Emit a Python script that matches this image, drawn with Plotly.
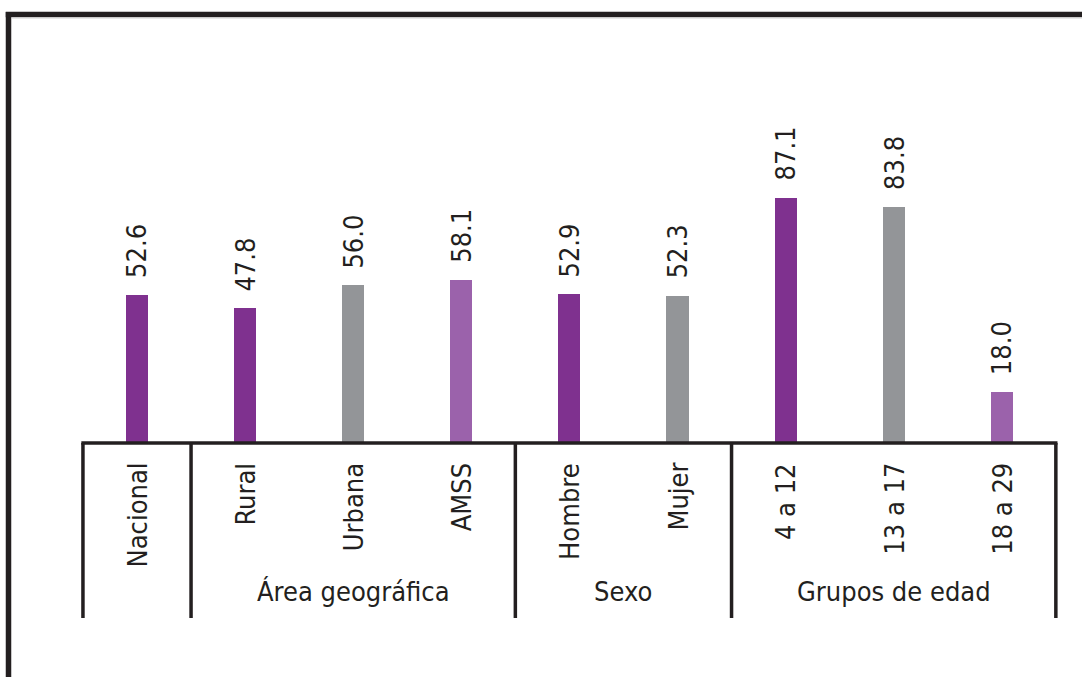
import plotly.graph_objects as go

categories = ["Nacional", "Rural", "Urbana", "AMSS", "Hombre", "Mujer", "4 a 12", "13 a 17", "18 a 29"]
values = [52.6, 47.8, 56.0, 58.1, 52.9, 52.3, 87.1, 83.8, 18.0]
group_names = ["", "Área geográfica", "Sexo", "Grupos de edad"]
group_sizes = [1, 3, 2, 3]

PURPLE = "#7F318F"
GRAY = "#939598"
LIGHT = "#9B62AB"
bar_colors = [PURPLE, PURPLE, GRAY, LIGHT, PURPLE, GRAY, PURPLE, GRAY, LIGHT]
INK = "#231F20"
FONT = "Liberation Sans Narrow, Arial Narrow, DejaVu Sans Condensed, Liberation Sans, Arial, sans-serif"

W, H = 1082, 677
# pixel geometry
x0_px, step_px = 137.0, 108.1
base_px, unit_px = 443.0, 2.814
xr = [-x0_px / step_px, (W - x0_px) / step_px]
yr = [-(H - base_px) / unit_px, base_px / unit_px]

xs = list(range(len(categories)))

fig = go.Figure()
fig.add_trace(go.Bar(x=xs, y=values, width=0.205, marker=dict(color=bar_colors, line=dict(width=0)),
                     hoverinfo="skip"))

ann = []
for x, v in zip(xs, values):
    ann.append(dict(x=x, y=v, text=f"{v:.1f}", textangle=-90, showarrow=False,
                    xanchor="center", yanchor="bottom", yshift=15,
                    font=dict(family=FONT, size=27, color=INK)))
label_top = -(461 - base_px) / unit_px
for x, c in zip(xs, categories):
    ann.append(dict(x=x, y=label_top, text=c, textangle=-90, showarrow=False,
                    xanchor="center", yanchor="top",
                    font=dict(family=FONT, size=27, color=INK)))

shapes = []
line_bottom = -(618 - base_px) / unit_px
group_label_y = -(591 - base_px) / unit_px
bounds = [-0.5]
for s in group_sizes:
    bounds.append(bounds[-1] + s)
shapes.append(dict(type="line", xref="x", yref="y", x0=bounds[0] - 0.015, x1=bounds[-1] + 0.015, y0=0, y1=0,
                   line=dict(color=INK, width=3.5)))
for b in bounds:
    shapes.append(dict(type="line", xref="x", yref="y", x0=b, x1=b, y0=0, y1=line_bottom,
                       line=dict(color=INK, width=3.5)))
for name, a, b in zip(group_names, bounds[:-1], bounds[1:]):
    if name:
        ann.append(dict(x=(a + b) / 2, y=group_label_y, text=name, showarrow=False,
                        xanchor="center", yanchor="middle",
                        font=dict(family=FONT, size=27, color=INK)))

# outer frame (left and top)
fx = 8.5 / W
fy = 1 - 14.5 / H
shapes.append(dict(type="line", xref="paper", yref="paper", x0=fx, x1=fx, y0=0, y1=fy + 2.5 / H,
                   line=dict(color=INK, width=5.5)))
shapes.append(dict(type="line", xref="paper", yref="paper", x0=fx - 2.75 / W, x1=1, y0=fy, y1=fy,
                   line=dict(color=INK, width=5.5)))
shapes.append(dict(type="line", xref="paper", yref="paper", x0=fx + 3 / W, x1=1, y0=fy - 3.5 / H, y1=fy - 3.5 / H,
                   line=dict(color="#CFCFCF", width=1)))

fig.update_layout(
    width=W, height=H,
    margin=dict(l=0, r=0, t=0, b=0),
    paper_bgcolor="white", plot_bgcolor="white",
    showlegend=False,
    xaxis=dict(range=xr, visible=False, fixedrange=True),
    yaxis=dict(range=yr, visible=False, fixedrange=True),
    annotations=ann, shapes=shapes,
    bargap=0,
)
fig.write_html("out.html", config={"displayModeBar": False},
               post_script="document.body.style.margin='0';document.body.style.overflow='hidden';")
